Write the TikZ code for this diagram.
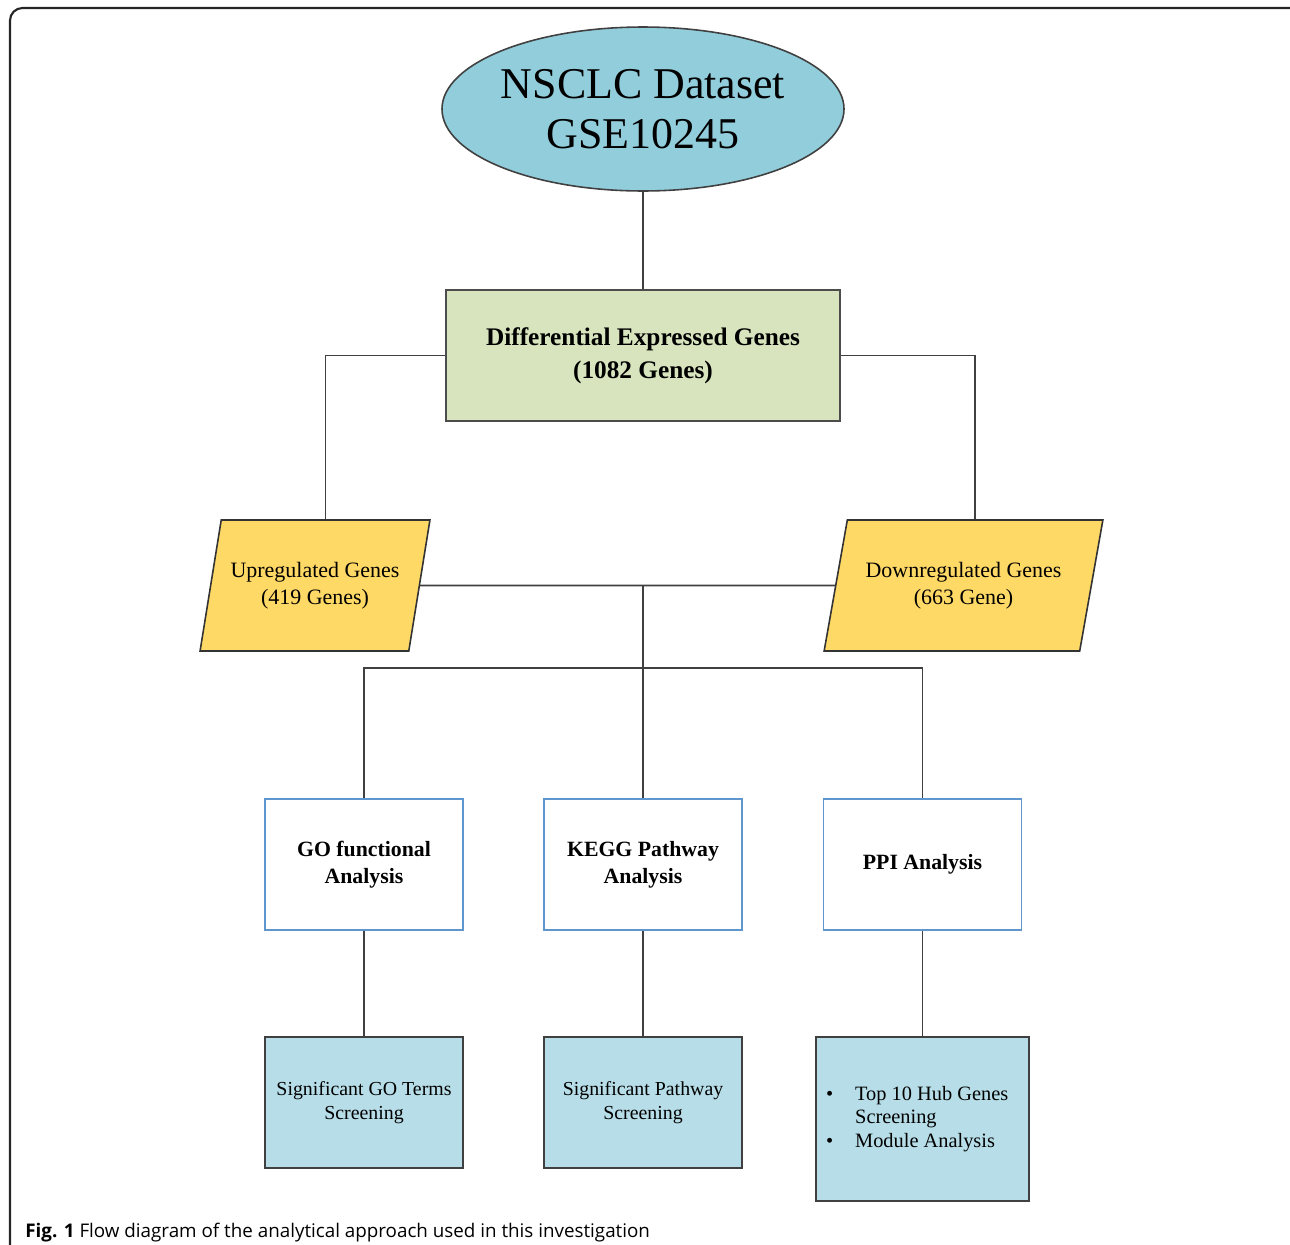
\documentclass[tikz,border=0pt]{standalone}
\usepackage{fontspec}
\setmainfont{Liberation Serif}
\newfontfamily\capfont{Open Sans}
\usetikzlibrary{shapes.geometric,positioning}

\definecolor{dsblue}{RGB}{146,205,220}
\definecolor{deggreen}{RGB}{215,228,189}
\definecolor{regyellow}{RGB}{255,217,102}
\definecolor{scrblue}{RGB}{183,222,232}
\definecolor{anaborder}{RGB}{95,150,205}

\begin{document}
\begin{tikzpicture}
[x=0.02cm,y=-0.02cm,
line/.style={draw=black!75,line width=0.9pt},
dataset/.style={ellipse,draw=black!75,line width=0.9pt,fill=dsblue,inner sep=0pt,minimum width=7.88cm,minimum height=3.28cm,align=center,font=\fontsize{25}{28.4}\selectfont},
degbox/.style={rectangle,draw=black!70,line width=0.9pt,fill=deggreen,minimum width=7.88cm,minimum height=2.62cm,align=center,font=\bfseries\fontsize{14.4}{18.7}\selectfont},
regbox/.style={trapezium,trapezium stretches=true,draw=black!80,line width=0.9pt,fill=regyellow,minimum height=2.62cm,inner sep=0pt,align=center,font=\fontsize{12.5}{15.5}\selectfont},
anabox/.style={rectangle,draw=anaborder,line width=0.9pt,fill=white,minimum width=3.96cm,minimum height=2.62cm,align=center,font=\bfseries\fontsize{12.4}{15.3}\selectfont},
scrbox/.style={rectangle,draw=black!75,line width=0.9pt,fill=scrblue,minimum width=3.96cm,minimum height=2.62cm,align=center,font=\fontsize{11.3}{14}\selectfont}]

\useasboundingbox (0,0) rectangle (1290,1244);

\draw [black!85,line width=1.2pt,rounded corners=0.25cm] (10,8) rectangle (1330,1290);

\node[dataset] (ds) at (643,109) {NSCLC Dataset\\GSE10245};

\node[degbox] (deg) at (643,355.5) {Differential Expressed Genes\\(1082 Genes)};

\node[regbox,trapezium left angle=68,trapezium right angle=112,minimum width=4.6cm] (up) at (315,585.5) {Upregulated Genes\\(419 Genes)};
\node[regbox,trapezium left angle=67.5,trapezium right angle=112.5,minimum width=5.58cm] (down) at (963.5,585.5) {Downregulated Genes\\(663 Gene)};

\coordinate (j1) at (643,585.5);
\coordinate (j2) at (643,668);

\node[anabox] (go) at (364,864.5) {GO functional\\Analysis};
\node[anabox] (kegg) at (643,864.5) {KEGG Pathway\\Analysis};
\node[anabox] (ppi) at (922.5,864.5) {PPI Analysis};

\node[scrbox] (go2) at (364,1102.5) {Significant GO Terms\\Screening};
\node[scrbox] (kegg2) at (643,1102.5) {Significant Pathway\\Screening};
\node[scrbox,minimum width=4.26cm,minimum height=3.28cm,align=left,font=\fontsize{11.6}{13.5}\selectfont] (ppi2) at (922.5,1119)
{\makebox[16.5pt][l]{\textbullet}Top 10 Hub Genes\hspace*{6pt}\\\hspace*{16.5pt}Screening\\\makebox[16.5pt][l]{\textbullet}Module Analysis};

\node[anchor=base west,inner sep=0pt,font=\capfont\fontsize{10.7}{13}\selectfont] (cap) at (25,1237)
{\textbf{Fig. 1} Flow diagram of the analytical approach used in this investigation};

\draw [line] (ds) -- (deg);
\draw [line] (deg.west) -| (up.top side);
\draw [line] (deg.east) -| (down.top side);
\draw [line] (up) -- (down);
\draw [line] (j1) -- (j2);
\draw [line] (j2) -| (go.north);
\draw [line] (j2) -- (kegg.north);
\draw [line] (j2) -| (ppi.north);

\draw [line] (go) -- (go2);
\draw [line] (kegg) -- (kegg2);
\draw [line] (ppi) -- (ppi2);
\end{tikzpicture}
\end{document}
